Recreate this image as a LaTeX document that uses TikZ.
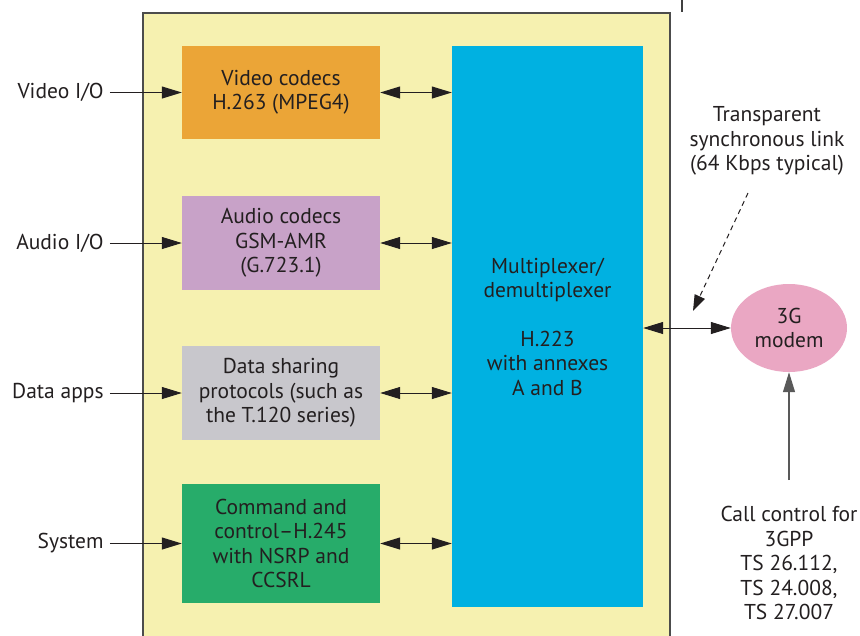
\documentclass[tikz,border=0pt]{standalone}
\usepackage{fontspec}
\setmainfont{PT Sans}
\usepackage{tikz}
\usetikzlibrary{positioning,arrows.meta,shapes.geometric}

\definecolor{ink}{HTML}{231F20}
\definecolor{pale}{HTML}{F6F1B0}
\definecolor{vid}{HTML}{EBA537}
\definecolor{aud}{HTML}{C8A2C8}
\definecolor{dat}{HTML}{C8C7CC}
\definecolor{cmd}{HTML}{27AC6A}
\definecolor{mx}{HTML}{00B1E1}
\definecolor{mdm}{HTML}{EAA7C3}

\begin{document}
\begin{tikzpicture}[x=1pt, y=-1pt, font=\fontsize{21.5}{24.5}\selectfont, text=ink,
  box/.style = {inner sep=0pt, minimum width=198pt, align=center},
  lab/.style = {inner sep=2pt, align=center},
  arr/.style = {-{Triangle[length=20pt, width=12pt]}, draw=ink, line width=1pt},
  darr/.style = {{Triangle[length=20pt, width=12pt]}-{Triangle[length=20pt, width=12pt]}, draw=ink, line width=1pt}]
\useasboundingbox (0,0) rectangle (860,635);

% terminal housing
\draw[fill=pale, draw=black!70, line width=1.6pt] (143,13) rectangle (670,650);
\draw[black!75, line width=1.2pt] (682,-2) -- (682,12);

% codec blocks
\node[box, fill=vid, minimum height=93pt] (video) at (281,92.5) {Video codecs\\H.263 (MPEG4)};
\node[box, fill=aud, minimum height=94pt] (audio) at (281,243) {Audio codecs\\GSM-AMR\\(G.723.1)};
\node[box, fill=dat, minimum height=94pt] (data) at (281,393) {Data sharing\\protocols (such as\\the T.120 series)};
\node[box, fill=cmd, minimum height=119pt] (cmd) at (281,543.5) {Command and\\control--H.245\\with NSRP and\\CCSRL};
\node[box, fill=mx, minimum width=191pt, minimum height=561pt] (mux) at (547.5,326.5) {Multiplexer/\\demultiplexer\\[24pt]H.223\\with annexes\\A and B};

\node[ellipse, fill=mdm, inner sep=0pt, minimum width=116pt, minimum height=88pt, align=center] (modem) at (789,328) {3G\\modem};

% inputs
\node[lab, inner xsep=6pt] (vio) [left=72pt of video] {Video I/O};
\node[lab, inner xsep=6pt] (aio) [left=72pt of audio] {Audio I/O};
\node[lab, inner xsep=6pt] (dap) [left=72pt of data] {Data apps};
\node[lab, inner xsep=6pt] (sys) [left=72pt of cmd] {System};

\draw[arr] (vio) -- (video);
\draw[arr] (aio) -- (audio);
\draw[arr] (dap) -- (data);
\draw[arr] (sys) -- (cmd);

\draw[darr] (video.east) -- (video.east -| mux.west);
\draw[darr] (audio.east) -- (audio.east -| mux.west);
\draw[darr] (data.east) -- (data.east -| mux.west);
\draw[darr] (cmd.east) -- (cmd.east -| mux.west);

\draw[darr] (modem.west -| mux.east) -- (modem.west);

% link note
\node[lab] (link) at (767,141) {Transparent\\synchronous link\\(64 Kbps typical)};
\coordinate (ls) at (748,193);
\coordinate (le) at (693,311);
\draw[-{Triangle[length=16pt, width=11pt]}, draw=ink, line width=1pt, dash pattern=on 5pt off 4pt] (ls) -- (le);

% call control
\node[lab] (call) at (789,563) {Call control for\\3GPP\\TS 26.112,\\TS 24.008,\\TS 27.007};
\coordinate (cs) at (789,480);
\draw[-{Triangle[length=20pt, width=12pt]}, draw=black!65, line width=1.3pt] (cs) -- (modem.south);

\end{tikzpicture}
\end{document}
